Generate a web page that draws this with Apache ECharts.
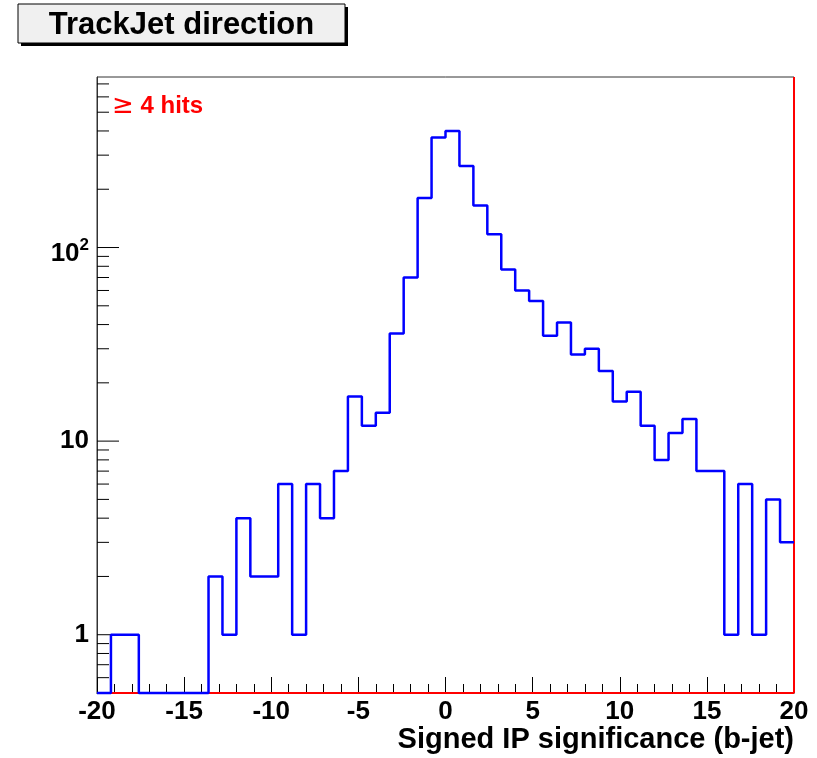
<!DOCTYPE html>
<html>
<head>
<meta charset="utf-8">
<script src="https://cdn.jsdelivr.net/npm/echarts@6/dist/echarts.min.js"></script>
<style>
html, body { margin: 0; padding: 0; background: #fff; }
#chart { width: 817px; height: 758px; }
</style>
</head>
<body>
<div id="chart"></div>
<script>
// Histogram bin edges: 50 bins of width 0.8 between -20 and 20
const BIN_EDGES = [
  -20, -19.2, -18.4, -17.6, -16.8, -16, -15.2, -14.4, -13.6, -12.8,
  -12, -11.2, -10.4, -9.6, -8.8, -8, -7.2, -6.4, -5.6, -4.8,
  -4, -3.2, -2.4, -1.6, -0.8, 0, 0.8, 1.6, 2.4, 3.2,
  4, 4.8, 5.6, 6.4, 7.2, 8, 8.8, 9.6, 10.4, 11.2,
  12, 12.8, 13.6, 14.4, 15.2, 16, 16.8, 17.6, 18.4, 19.2, 20
];

// Entries per bin
const COUNTS = [
  0, 1, 1, 0, 0, 0, 0, 0, 2, 1,
  4, 2, 2, 6, 1, 6, 4, 7, 17, 12,
  14, 36, 70, 180, 370, 400, 264, 165, 117, 77,
  60, 53, 35, 41, 28, 30, 23, 16, 18, 12,
  8, 11, 13, 7, 7, 1, 6, 1, 5, 3
];

// Axis ranges and tick values
const X_MIN = -20, X_MAX = 20, X_STEP = 5;
const Y_MIN = 0.5, Y_MAX = 760;
const Y_LABELS = [1, 10, 100];
const Y_MINOR_TICKS = [0.6, 0.7, 0.8, 0.9, 2, 3, 4, 5, 6, 7, 8, 9,
  20, 30, 40, 50, 60, 70, 80, 90, 200, 300, 400, 500, 600, 700];

const FONT = '"Liberation Sans", Arial, Helvetica, sans-serif';

// Empty bins sit on the lower frame edge, as in a log-scale histogram
const shown = v => (v > 0 ? v : Y_MIN);
const stepData = BIN_EDGES.map((edge, i) => [
  edge,
  shown(COUNTS[Math.min(i, COUNTS.length - 1)])
]);

function tickSeries(values, len) {
  return {
    type: 'custom',
    coordinateSystem: 'cartesian2d',
    silent: true,
    z: 4,
    data: values.map(v => [X_MIN, v]),
    renderItem: function (params, api) {
      const p = api.coord([api.value(0), api.value(1)]);
      return {
        type: 'line',
        shape: { x1: p[0], y1: p[1], x2: p[0] + len, y2: p[1] },
        style: { stroke: '#000', lineWidth: 1 }
      };
    }
  };
}

function yLabel(value) {
  for (const v of Y_LABELS) {
    if (Math.abs(Math.log10(value) - Math.log10(v)) < 1e-6) {
      if (v === 100) return '{big|10}{sup|2}';
      return '{b|' + v + '}';
    }
  }
  return '';
}

const chart = echarts.init(document.getElementById('chart'), null, { renderer: 'canvas' });

chart.setOption({
  animation: false,
  backgroundColor: '#fff',
  grid: {
    left: 97, right: 23, top: 77, bottom: 65,
    show: true, borderColor: '#333', borderWidth: 1, backgroundColor: 'transparent'
  },
  xAxis: {
    type: 'value',
    min: X_MIN, max: X_MAX, interval: X_STEP,
    axisLine: { show: true, onZero: false, lineStyle: { color: '#000', width: 1 } },
    axisTick: { show: true, inside: true, length: 16, lineStyle: { color: '#000' } },
    minorTick: { show: true, splitNumber: 5, length: 9, lineStyle: { color: '#000' } },
    splitLine: { show: false },
    axisLabel: {
      color: '#000', fontSize: 26, fontWeight: 'bold', fontFamily: FONT,
      lineHeight: 26, margin: 6, showMinLabel: true, showMaxLabel: true
    }
  },
  yAxis: {
    type: 'log', logBase: 10,
    min: Y_MIN, max: Y_MAX,
    axisLine: { show: true, onZero: false, lineStyle: { color: '#333', width: 1 } },
    axisTick: { show: false },
    splitLine: { show: false },
    axisLabel: {
      margin: 8,
      showMinLabel: false, showMaxLabel: false,
      formatter: yLabel,
      rich: {
        b: { color: '#000', fontSize: 26, fontWeight: 'bold', fontFamily: FONT, lineHeight: 26 },
        big: { color: '#000', fontSize: 26, fontWeight: 'bold', fontFamily: FONT, lineHeight: 26, padding: [12, 0, 0, 0] },
        sup: { color: '#000', fontSize: 17, fontWeight: 'bold', fontFamily: FONT, padding: [0, 0, 4, 0] }
      }
    }
  },
  series: [
    {
      // red frame markers along the right and lower edges
      type: 'line',
      data: [],
      silent: true,
      markLine: {
        silent: true,
        symbol: 'none',
        label: { show: false },
        lineStyle: { color: '#ff0000', width: 2, type: 'solid' },
        data: [{ xAxis: X_MAX }, { yAxis: Y_MIN }]
      }
    },
    tickSeries(Y_LABELS, 22),
    tickSeries(Y_MINOR_TICKS, 12),
    {
      name: 'Signed IP significance',
      type: 'line',
      step: 'end',
      data: stepData,
      showSymbol: false,
      clip: false,
      z: 10,
      lineStyle: { color: '#0000ff', width: 2.5 },
      silent: true
    }
  ],
  graphic: [
    {
      type: 'group',
      children: [
        { type: 'rect', shape: { x: 21, y: 7, width: 327, height: 39 }, style: { fill: '#000' } },
        { type: 'rect', shape: { x: 18, y: 4, width: 327, height: 39 }, style: { fill: '#f0f0f0', stroke: '#000', lineWidth: 1 } },
        {
          type: 'text', x: 181.5, y: 25,
          style: {
            text: 'TrackJet direction', fill: '#000',
            font: 'bold 31px ' + FONT, align: 'center', verticalAlign: 'middle'
          }
        }
      ]
    },
    {
      type: 'text', x: 112, y: 106, z: 20,
      style: {
        text: '{g|≥}{b| 4 hits}',
        align: 'left', verticalAlign: 'middle',
        rich: {
          g: { fill: '#ff0000', font: '26px "DejaVu Sans", ' + FONT },
          b: { fill: '#ff0000', font: 'bold 24px ' + FONT }
        }
      }
    },
    {
      type: 'text', x: 794, y: 740,
      style: {
        text: 'Signed IP significance (b-jet)', fill: '#000',
        font: 'bold 29px ' + FONT, align: 'right', verticalAlign: 'middle'
      }
    }
  ]
});
</script>
</body>
</html>
